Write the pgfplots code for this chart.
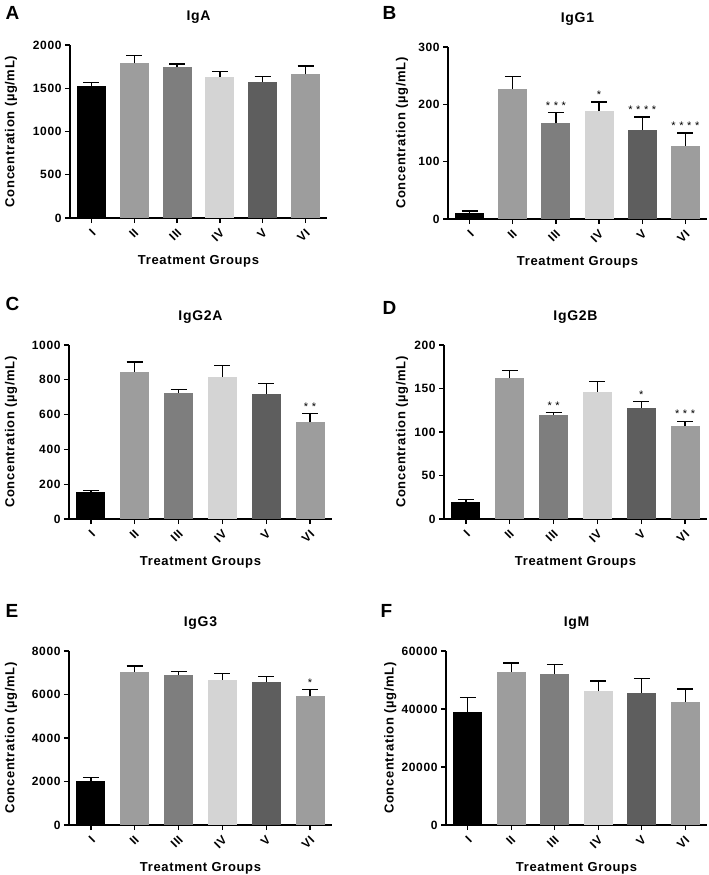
\documentclass[border=0pt]{standalone}
\usepackage{fontspec}
\setmainfont{Liberation Sans}[LetterSpace=5]
\usepackage{pgfplots}
\pgfplotsset{compat=1.18}

\definecolor{gI}{HTML}{000000}
\definecolor{gII}{HTML}{9D9D9D}
\definecolor{gIII}{HTML}{7E7E7E}
\definecolor{gIV}{HTML}{D4D4D4}
\definecolor{gV}{HTML}{5E5E5E}
\definecolor{gVI}{HTML}{9D9D9D}

\pgfplotsset{
  panel/.style={
    anchor=south west, scale only axis,
    xmin=-0.5, xmax=5.5, ymin=0,
    axis x line*=bottom, axis y line*=left,
    axis line style={line width=1.2pt},
    xtick={0,...,5}, xticklabels={I,II,III,IV,V,VI},
    tick align=outside, major tick length=5pt,
    tick style={black, line width=1.2pt},
    scaled y ticks=false,
    /pgf/number format/1000 sep={},
    /pgf/number format/assume math mode=true,
    tick label style={font=\bfseries\fontsize{12}{12}\selectfont},
    x tick label style={xshift=3pt, yshift=-7pt, rotate=45, anchor=east, inner sep=1pt},
    label style={font=\bfseries\fontsize{13}{13}\selectfont},
    xlabel={Treatment Groups},
    ylabel={Concentration (µg/mL)},
    xlabel style={at={(axis description cs:0.5,0)}, anchor=base, yshift=-46.5pt},
    title style={at={(axis description cs:0.5,1)}, anchor=base, yshift=19pt,
      font=\bfseries\fontsize{14}{14}\selectfont},
    clip=false,
  },
  gbar/.style={ybar, bar width=29pt, bar shift=0pt, draw=none, fill=#1,
    error bars/.cd, y dir=plus, y explicit, error mark=|,
    error bar style={draw=black, line width=1.2pt},
    error mark options={draw=black, line width=1.2pt, mark size=8pt}},
  stars/.style={draw=none, nodes near coords, point meta=explicit symbolic,
    nodes near coords style={anchor=south, inner sep=0pt, yshift=3pt,
      font=\fontsize{11}{11}\selectfont, text=black}},
}

\begin{document}
\begin{tikzpicture}
\path[use as bounding box] (0,0) rectangle (709pt,-875pt);

\tikzset{plabel/.style={anchor=base west, font=\bfseries\fontsize{19}{19}\selectfont}}
\node[plabel] at (2pt,-20pt) {A};
\node[plabel] at (379pt,-20pt) {B};
\node[plabel] at (2pt,-310pt) {C};
\node[plabel] at (379pt,-314pt) {D};
\node[plabel] at (2pt,-617pt) {E};
\node[plabel] at (377pt,-617pt) {F};

% A: IgA
\begin{axis}[panel, at={(70pt,-218pt)}, width=257pt, height=173pt,
  ymax=2000, ytick={0,500,...,2000}, title={IgA},
  ylabel style={at={(axis description cs:-0.192,0.5)}, anchor=south}]
\addplot[gbar=gI]   coordinates {(0,1530) +- (0,40)};
\addplot[gbar=gII]  coordinates {(1,1788) +- (0,90)};
\addplot[gbar=gIII] coordinates {(2,1745) +- (0,35)};
\addplot[gbar=gIV]  coordinates {(3,1635) +- (0,57)};
\addplot[gbar=gV]   coordinates {(4,1570) +- (0,70)};
\addplot[gbar=gVI]  coordinates {(5,1662) +- (0,95)};
\end{axis}

% B: IgG1
\begin{axis}[panel, at={(448pt,-219pt)}, width=259pt, height=172pt,
  ymax=300, ytick={0,100,200,300}, title={IgG1},
  ylabel style={at={(axis description cs:-0.140,0.5)}, anchor=south}]
\addplot[gbar=gI]   coordinates {(0,11) +- (0,3)};
\addplot[gbar=gII]  coordinates {(1,227) +- (0,22)};
\addplot[gbar=gIII] coordinates {(2,167) +- (0,19)};
\addplot[gbar=gIV]  coordinates {(3,189) +- (0,15)};
\addplot[gbar=gV]   coordinates {(4,156) +- (0,22)};
\addplot[gbar=gVI]  coordinates {(5,128) +- (0,22)};
\addplot[stars] coordinates {(2,186)[* * *] (3,204)[*] (4,178)[* * * *] (5,150)[* * * *]};
\end{axis}

% C: IgG2A
\begin{axis}[panel, at={(69pt,-519pt)}, width=263pt, height=174pt,
  ymax=1000, ytick={0,200,...,1000}, title={IgG2A},
  ylabel style={at={(axis description cs:-0.184,0.5)}, anchor=south}]
\addplot[gbar=gI]   coordinates {(0,157) +- (0,6)};
\addplot[gbar=gII]  coordinates {(1,847) +- (0,55)};
\addplot[gbar=gIII] coordinates {(2,727) +- (0,17)};
\addplot[gbar=gIV]  coordinates {(3,815) +- (0,69)};
\addplot[gbar=gV]   coordinates {(4,721) +- (0,59)};
\addplot[gbar=gVI]  coordinates {(5,555) +- (0,53)};
\addplot[stars] coordinates {(5,608)[* *]};
\end{axis}

% D: IgG2B
\begin{axis}[panel, at={(444pt,-519pt)}, width=263pt, height=174pt,
  ymax=200, ytick={0,50,...,200}, title={IgG2B},
  ylabel style={at={(axis description cs:-0.123,0.5)}, anchor=south}]
\addplot[gbar=gI]   coordinates {(0,19.5) +- (0,2.5)};
\addplot[gbar=gII]  coordinates {(1,162.5) +- (0,8.5)};
\addplot[gbar=gIII] coordinates {(2,120) +- (0,2.5)};
\addplot[gbar=gIV]  coordinates {(3,146.5) +- (0,11.5)};
\addplot[gbar=gV]   coordinates {(4,128) +- (0,7)};
\addplot[gbar=gVI]  coordinates {(5,106.5) +- (0,6)};
\addplot[stars] coordinates {(2,122.5)[* *] (4,135)[*] (5,112.5)[* * *]};
\end{axis}

% E: IgG3
\begin{axis}[panel, at={(69pt,-825pt)}, width=263pt, height=174pt,
  ymax=8000, ytick={0,2000,...,8000}, title={IgG3},
  ylabel style={at={(axis description cs:-0.184,0.5)}, anchor=south}]
\addplot[gbar=gI]   coordinates {(0,2030) +- (0,140)};
\addplot[gbar=gII]  coordinates {(1,7035) +- (0,275)};
\addplot[gbar=gIII] coordinates {(2,6880) +- (0,170)};
\addplot[gbar=gIV]  coordinates {(3,6680) +- (0,300)};
\addplot[gbar=gV]   coordinates {(4,6575) +- (0,245)};
\addplot[gbar=gVI]  coordinates {(5,5920) +- (0,320)};
\addplot[stars] coordinates {(5,6240)[*]};
\end{axis}

% F: IgM
\begin{axis}[panel, at={(446pt,-825pt)}, width=261pt, height=174pt,
  ymax=60000, ytick={0,20000,40000,60000}, title={IgM},
  ylabel style={at={(axis description cs:-0.177,0.5)}, anchor=south}]
\addplot[gbar=gI]   coordinates {(0,38850) +- (0,5170)};
\addplot[gbar=gII]  coordinates {(1,52870) +- (0,3000)};
\addplot[gbar=gIII] coordinates {(2,52070) +- (0,3220)};
\addplot[gbar=gIV]  coordinates {(3,46090) +- (0,3570)};
\addplot[gbar=gV]   coordinates {(4,45630) +- (0,4830)};
\addplot[gbar=gVI]  coordinates {(5,42530) +- (0,4370)};
\end{axis}
\end{tikzpicture}
\end{document}
